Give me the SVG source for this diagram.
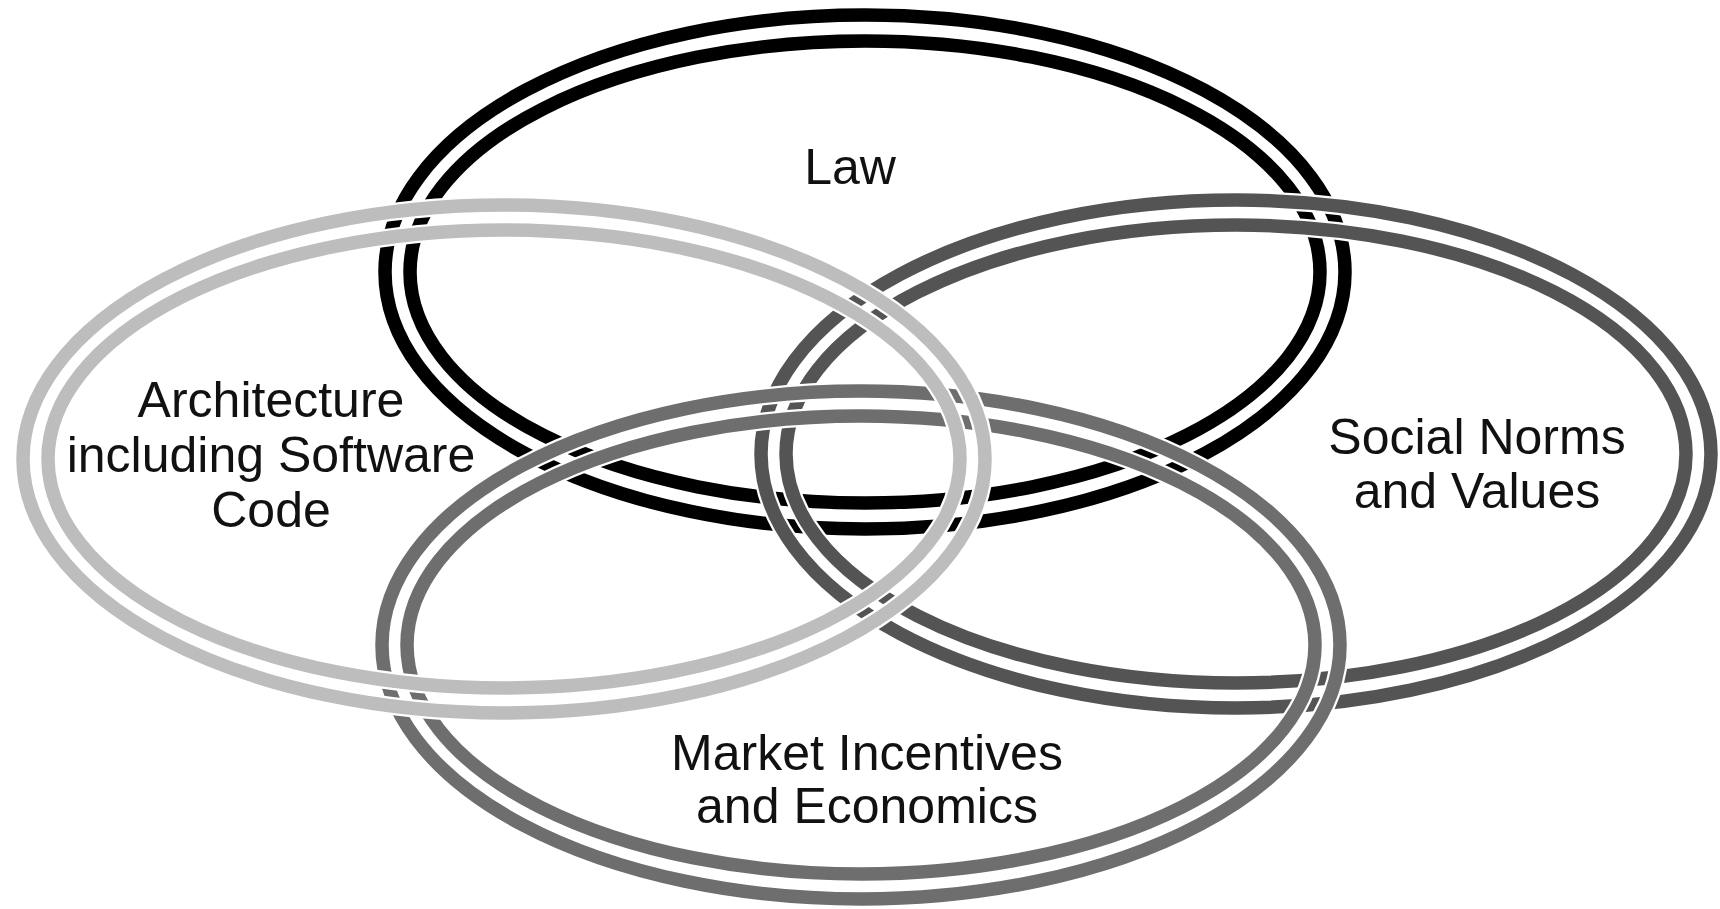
<svg xmlns="http://www.w3.org/2000/svg" width="1720" height="909" viewBox="0 0 1720 909">
<style>
.halo{fill:none;stroke:#ffffff;stroke-width:18}
.ring{fill:none;stroke-width:13.5}
.law{stroke:#000000}
.arch{stroke:#bdbdbd}
.soc{stroke:#545454}
.mkt{stroke:#6e6e6e}
.lbl{font-family:"Liberation Sans",Arial,Helvetica,sans-serif;font-size:50px;fill:#111111;text-anchor:middle}
</style>
<rect x="0" y="0" width="1720" height="909" fill="#ffffff"/>
<g id="connectors"/>
<g id="law">
<ellipse class="halo" cx="865" cy="272" rx="480" ry="257"/>
<ellipse class="halo" cx="865" cy="272" rx="455" ry="231"/>
<ellipse class="ring law" cx="865" cy="272" rx="480" ry="257"/>
<ellipse class="ring law" cx="865" cy="272" rx="455" ry="231"/>
<text class="lbl" x="850" y="184">Law</text>
</g>
<g id="social">
<ellipse class="halo" cx="1236" cy="454" rx="475" ry="254"/>
<ellipse class="halo" cx="1236" cy="454" rx="450" ry="229"/>
<ellipse class="ring soc" cx="1236" cy="454" rx="475" ry="254"/>
<ellipse class="ring soc" cx="1236" cy="454" rx="450" ry="229"/>
<text class="lbl" x="1477" y="454">Social Norms</text>
<text class="lbl" x="1477" y="508">and Values</text>
</g>
<g id="market">
<ellipse class="halo" cx="861" cy="645" rx="479" ry="254"/>
<ellipse class="halo" cx="861" cy="645" rx="454" ry="229"/>
<ellipse class="ring mkt" cx="861" cy="645" rx="479" ry="254"/>
<ellipse class="ring mkt" cx="861" cy="645" rx="454" ry="229"/>
<text class="lbl" x="867" y="770">Market Incentives</text>
<text class="lbl" x="867" y="823">and Economics</text>
</g>
<g id="architecture">
<ellipse class="halo" cx="504" cy="459" rx="481" ry="254"/>
<ellipse class="halo" cx="504" cy="459" rx="456" ry="229"/>
<ellipse class="ring arch" cx="504" cy="459" rx="481" ry="254"/>
<ellipse class="ring arch" cx="504" cy="459" rx="456" ry="229"/>
<text class="lbl" x="271" y="417">Architecture</text>
<text class="lbl" x="271" y="472">including Software</text>
<text class="lbl" x="271" y="527">Code</text>
</g>
</svg>
